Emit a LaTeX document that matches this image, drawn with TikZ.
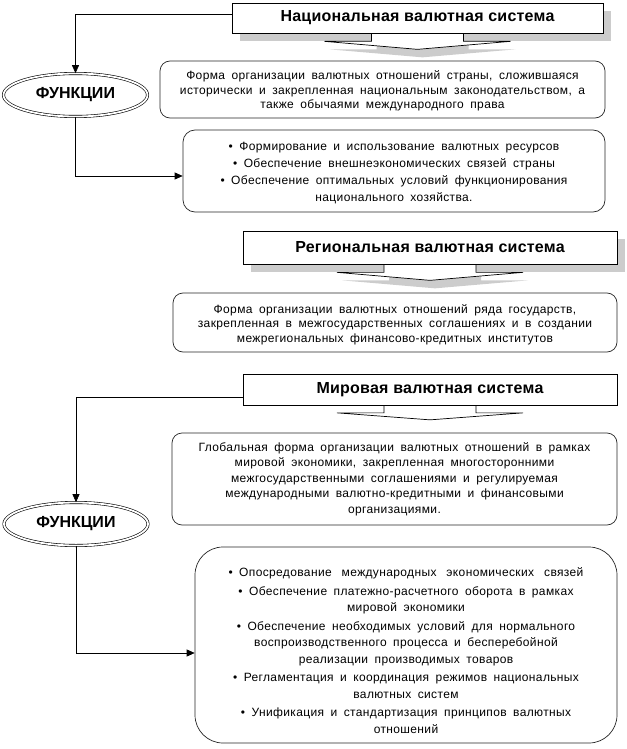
\documentclass[tikz,border=0pt]{standalone}
\usepackage{fontspec}
\setmainfont{Liberation Sans}
\newfontfamily\bodyfont[LetterSpace=3]{Liberation Sans}
\newfontfamily\headfont[LetterSpace=1.5]{Liberation Sans}
\usetikzlibrary{shapes.geometric,arrows.meta,calc}
\pgfdeclarelayer{shadowlayer}
\pgfdeclarelayer{bglayer}
\pgfsetlayers{shadowlayer,bglayer,main}
\newcommand\widesp{\spaceskip=6.5pt plus 1pt minus 0.5pt\relax}
\newcommand\blockarrow[2]{%
  \begin{pgfonlayer}{shadowlayer}
    \fill[gray!40] ($(#1.south)+(-46+5,#2)$) -- ++(0,8) -- ++(-47,0) -- ++(93,8) -- ++(93,-8) -- ++(-47,0) -- ++(0,-8) -- cycle;
  \end{pgfonlayer}
  \begin{pgfonlayer}{bglayer}
    \filldraw[fill=white,draw=black,line width=0.7pt] ($(#1.south)+(-46,0)$) -- ++(0,8) -- ++(-47,0) -- ++(93,8) -- ++(93,-8) -- ++(-47,0) -- ++(0,-8);
  \end{pgfonlayer}}
\newcommand\titleshadow[1]{%
  \begin{pgfonlayer}{shadowlayer}
    \fill[gray!40] ($(#1.north west)+(8,8)$) rectangle ($(#1.south east)+(8,8)$);
  \end{pgfonlayer}}
\tikzset{
  titlebox/.style={draw=black,fill=white,line width=0.7pt,rectangle,inner sep=0pt,
    font=\headfont\fontsize{16}{18}\selectfont\bfseries},
  descbox/.style={draw=black!85,fill=white,line width=0.7pt,rectangle,rounded corners=10pt,
    inner sep=0pt,align=center,font=\bodyfont\fontsize{12}{14.5}\selectfont\widesp},
  listbox/.style={descbox,font=\bodyfont\fontsize{12}{16.5}\selectfont\widesp},
  funcell/.style={draw=black,double,double distance=1.8pt,line width=0.6pt,ellipse,inner sep=0pt,
    minimum width=144pt,minimum height=43pt,font=\fontsize{16}{18}\selectfont\bfseries},
  conn/.style={draw=black,line width=0.7pt,-{Triangle[length=8pt,width=7pt]}},
}
\begin{document}
\begin{tikzpicture}[x=1pt,y=-1pt]
\useasboundingbox (0,0) rectangle (626,749);
% National
\node[titlebox,minimum width=371pt,minimum height=30pt] (nat) at (417.5,18) {Национальная валютная система};
\titleshadow{nat}
\blockarrow{nat}{8}
\node[descbox,minimum width=445pt,minimum height=57pt] (desc1) at (382.5,89.5)
  {\rule{0pt}{12pt}Форма организации валютных отношений страны, сложившаяся\\
   исторически и закрепленная национальным законодательством, а\\
   также обычаями международного права};
\node[listbox,rounded corners=12pt,minimum width=422pt,minimum height=82pt,
      font=\bodyfont\fontsize{12}{17}\selectfont\widesp] (list1) at (394,171)
  {\rule{0pt}{13pt}\textbullet\ Формирование и использование валютных ресурсов\\
   \textbullet\ Обеспечение внешнеэкономических связей страны\\
   \textbullet\ Обеспечение оптимальных условий функционирования\\
   национального хозяйства.};
\node[funcell] (f1) at (75.5,95) {ФУНКЦИИ};
\draw[conn] ([yshift=4pt]nat.west) -| (f1.north);
\draw[conn] (f1.south) |- ([yshift=-5pt]list1.west);
% Regional
\node[titlebox,minimum width=374pt,minimum height=33pt] (reg) at (430,247.5) {Региональная валютная система};
\titleshadow{reg}
\blockarrow{reg}{8}
\node[descbox,minimum width=444pt,minimum height=59pt] (desc2) at (395,322.5)
  {\rule{0pt}{13pt}Форма организации валютных отношений ряда государств,\\
   закрепленная в межгосударственных соглашениях и в создании\\
   межрегиональных финансово-кредитных институтов};
% World
\node[titlebox,minimum width=374pt,minimum height=31pt] (world) at (430,390) {Мировая валютная система};
\begin{pgfonlayer}{bglayer}
  \filldraw[fill=white,draw=black,line width=0.7pt] ($(world.south)+(-46,0)$) -- ++(0,7) -- ++(-47,0) -- ++(93,7) -- ++(93,-7) -- ++(-47,0) -- ++(0,-7);
\end{pgfonlayer}
\node[descbox,minimum width=445pt,minimum height=92pt,font=\bodyfont\fontsize{12}{15.5}\selectfont\widesp] (desc3) at (394.5,479)
  {Глобальная форма организации валютных отношений в рамках\\
   мировой экономики, закрепленная многосторонними\\
   межгосударственными соглашениями и регулируемая\\
   международными валютно-кредитными и финансовыми\\
   организациями.};
\node[funcell] (f2) at (76,524) {ФУНКЦИИ};
\node[listbox,rounded corners=28pt,minimum width=422pt,minimum height=196pt] (list2) at (406,645)
  {\rule{0pt}{20pt}\textbullet\ Опосредование\hspace{10pt}международных\hspace{10pt}экономических\hspace{10pt}связей\\[2pt]
   \textbullet\ Обеспечение платежно-расчетного оборота в рамках\\
   мировой экономики\\[2pt]
   \textbullet\ Обеспечение необходимых условий для нормального\\
   воспроизводственного процесса и бесперебойной\\
   реализации производимых товаров\\[2pt]
   \textbullet\ Регламентация и координация режимов национальных\\
   валютных систем\\[2pt]
   \textbullet\ Унификация и стандартизация принципов валютных\\
   отношений};
\draw[conn] ([yshift=-7pt]world.west) -| (f2.north);
\draw[conn] (f2.south) |- ([yshift=-8pt]list2.west);
\end{tikzpicture}
\end{document}
